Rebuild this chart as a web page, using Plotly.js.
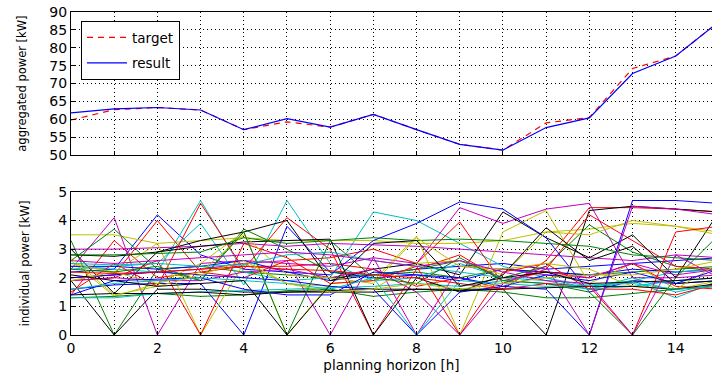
<!DOCTYPE html>
<html><head><meta charset="utf-8">
<script src="https://cdn.plot.ly/plotly-3.0.1.min.js"></script>
<style>html,body{margin:0;padding:0;background:#fff}#c{width:712px;height:379px}</style>
</head><body><div id="c"></div>
<script>
const hours = [0,1,2,3,4,5,6,7,8,9,10,11,12,13,14,15];
const target = [59.8,62.7,63.3,62.6,57.1,59.3,57.8,61.4,57.1,53.0,51.4,59.0,60.5,74.2,77.7,87.3];
const result = [61.8,62.9,63.3,62.6,57.1,60.2,57.8,61.4,57.1,53.0,51.4,57.7,60.4,72.8,77.7,87.3];

const blueSeries = [
  [2.2,2.3,4.2,2.8,2.3,2.2,1.9,2.1,2.3,2.4,2.5,2.3,2.4,2.5,2.6,2.7],
  [1.6,1.75,1.8,1.8,0,3.8,2.2,2.0,2.1,1.9,2.3,2.2,2.1,2.3,2.2,2.3],
  [2.4,2.4,2.3,2.4,2.6,2.2,2.1,3.3,3.9,4.65,4.4,3.4,1.5,1.9,1.8,1.9],
  [2.0,2.1,2.2,2.1,2.0,1.9,1.7,1.6,0,1.5,1.7,1.6,0,4.7,4.7,4.6],
  [1.4,1.9,1.95,2.0,1.6,1.4,1.4,2.2,2.1,2.0,1.7,2.1,1.9,2.2,1.8,2.3]
];
const greenSeries = [
  [3.3,0,2.3,2.4,2.2,2.1,2.0,2.1,2.2,2.0,2.3,2.2,2.1,2.2,2.3,2.4],
  [2.6,3.7,2.3,1.9,3.7,3.0,2.2,2.1,2.3,2.6,2.0,2.4,3.85,2.9,2.4,2.2],
  [1.3,1.35,1.45,1.35,1.4,1.55,1.6,1.35,1.5,1.6,1.5,1.3,1.3,1.45,1.6,1.7],
  [2.8,2.8,2.85,2.9,3.4,3.2,3.3,3.4,3.3,3.35,3.3,3.2,3.1,2.8,2.7,2.6],
  [2.3,2.2,2.4,1.9,3.6,0,3.3,2.0,1.8,2.7,1.9,1.8,1.5,0,2.0,3.5]
];
const redSeries = [
  [1.4,3.3,2.0,2.2,2.4,2.4,2.5,2.3,1.7,2.0,1.6,2.6,4.45,4.45,4.4,4.3],
  [2.0,2.1,4.0,2.2,2.0,2.6,2.7,3.0,2.5,3.95,1.8,2.3,4.2,3.3,2.4,2.3],
  [1.5,2.5,1.7,4.6,2.3,4.1,3.0,0,2.3,2.8,1.9,2.2,2.0,2.5,1.7,1.6],
  [1.9,2.0,2.6,0,3.2,2.7,1.8,1.9,2.4,0,2.2,2.5,1.6,1.6,1.4,1.8],
  [2.2,2.15,2.2,2.3,2.4,2.3,2.25,2.1,2.0,1.8,1.6,1.8,1.7,0,3.6,3.8]
];
const cyanSeries = [
  [2.4,2.3,2.2,4.7,2.2,1.9,2.0,4.3,4.0,3.2,2.4,2.0,1.6,2.0,1.5,1.8],
  [2.3,2.4,2.5,3.9,1.75,4.7,2.5,1.9,2.0,2.5,2.0,2.0,1.7,1.9,2.2,2.3],
  [1.3,1.3,1.45,1.5,1.55,1.6,1.65,1.7,1.8,1.7,1.9,1.8,1.6,1.9,1.3,1.9],
  [2.5,2.45,2.5,2.4,2.45,2.8,2.9,2.6,2.4,2.2,2.0,1.9,1.6,1.7,1.9,2.0],
  [1.6,1.8,1.9,2.0,1.9,1.8,1.6,2.0,0,1.9,1.8,1.7,1.75,1.8,1.6,1.7]
];
const magentaSeries = [
  [2.3,4.1,0,2.5,2.6,2.5,2.4,2.7,2.5,4.45,3.9,4.4,4.6,2.0,2.0,2.1],
  [3.0,3.0,3.05,3.1,3.2,3.1,3.2,3.15,3.1,3.0,2.9,2.8,2.7,2.6,2.8,2.7],
  [2.0,2.1,2.2,2.3,2.5,2.6,0,2.7,0,2.4,2.3,2.1,2.0,2.5,2.1,2.3],
  [1.9,2.0,1.9,1.9,2.2,2.3,2.0,2.3,1.5,0,1.8,2.4,0,4.5,4.4,4.2],
  [2.6,2.5,2.6,2.7,2.8,2.9,2.8,2.6,2.4,2.6,2.2,1.9,1.8,0,2.8,2.0]
];
const yellowSeries = [
  [3.5,3.5,3.2,3.3,3.4,3.3,3.3,3.3,3.2,3.2,3.3,3.6,3.7,3.9,3.8,3.6],
  [2.6,1.35,1.8,2.5,3.6,0,1.8,1.9,3.45,0,3.6,4.35,1.8,2.5,1.6,1.9],
  [2.5,2.2,3.2,0,2.5,1.8,1.7,1.6,2.5,2.6,2.1,3.6,3.5,4.0,3.8,3.5],
  [1.9,2.2,1.8,2.2,3.5,2.1,2.0,1.8,3.4,2.4,2.3,2.5,2.3,1.7,1.6,2.5],
  [2.7,1.4,1.7,2.1,2.6,1.8,1.5,1.6,1.8,1.6,1.8,2.0,2.1,2.1,2.3,2.6]
];
const blackSeries = [
  [1.9,0,1.6,1.6,1.5,1.5,1.5,1.5,1.6,1.6,1.6,0,4.35,4.5,4.4,4.3],
  [3.0,1.45,2.9,3.3,3.6,4.0,1.9,2.3,2.5,2.1,4.3,3.4,2.7,3.5,2.0,4.3],
  [2.8,2.75,2.9,3.1,3.25,3.3,3.35,0,2.0,1.5,2.1,3.75,2.6,3.1,1.8,1.9],
  [1.4,1.45,1.45,1.5,1.4,1.5,1.55,1.6,1.6,1.55,1.6,1.65,1.7,1.7,1.6,1.8],
  [2.1,1.9,1.7,1.8,1.9,0,1.75,3.2,3.3,1.7,2.0,2.2,1.8,1.85,1.9,2.0]
];

const groups = [
  [blueSeries,'#0000ff'],[greenSeries,'#008000'],[redSeries,'#ff0000'],
  [cyanSeries,'#00bfbf'],[magentaSeries,'#bf00bf'],[yellowSeries,'#bfbf00'],[blackSeries,'#000000']
];

const traces = [];
traces.push({x:hours,y:target,name:'target',legendgroup:'a',type:'scatter',mode:'lines',xaxis:'x',yaxis:'y',
  line:{color:'#ff0000',width:1.2,dash:'6px,5px'}});
traces.push({x:hours,y:result,name:'result',legendgroup:'b',type:'scatter',mode:'lines',xaxis:'x',yaxis:'y',
  line:{color:'#0000ff',width:1.2}});
for (let k=0;k<5;k++){
  for (const [arr,col] of groups){
    traces.push({x:hours,y:arr[k],type:'scatter',mode:'lines',xaxis:'x2',yaxis:'y2',
      showlegend:false,hoverinfo:'skip',line:{color:col,width:1}});
  }
}

const GD = '1px,3px';
const font = {family:'DejaVu Sans, sans-serif',size:13,color:'#000'};
const xbase = {range:[0,14.84],showline:true,mirror:true,linecolor:'#000',linewidth:1,
  ticks:'inside',ticklen:4,tickcolor:'#000',zeroline:false,
  showgrid:true,gridcolor:'#000',griddash:GD,gridwidth:1};
const layout = {
  width:712,height:379,
  margin:{l:71,r:0,t:12,b:44},
  paper_bgcolor:'#fff',plot_bgcolor:'#fff',
  font:font,
  showlegend:true,
  legend:{x:0.0156,y:0.972,xanchor:'left',yanchor:'top',bordercolor:'#000',borderwidth:1,
    bgcolor:'#fff',font:{family:'DejaVu Sans, sans-serif',size:13.5},tracegroupgap:5,
    entrywidth:100,itemwidth:40},
  xaxis:Object.assign({},xbase,{domain:[0,1],anchor:'y',dtick:1,tick0:0,showticklabels:false}),
  yaxis:{domain:[0.557,1],anchor:'x',range:[50,90],dtick:5,showline:true,mirror:true,linecolor:'#000',
    ticks:'inside',ticklen:4,tickcolor:'#000',zeroline:false,showgrid:true,gridcolor:'#000',griddash:GD,
    tickfont:{size:14},
    title:{text:'aggregated power [kW]',font:{size:11.5},standoff:20}},
  xaxis2:Object.assign({},xbase,{domain:[0,1],anchor:'y2',dtick:2,tick0:0,tickfont:{size:14},
    minor:{dtick:1,showgrid:true,gridcolor:'#000',griddash:GD,ticks:'inside',ticklen:3,tickcolor:'#000'},
    title:{text:'planning horizon [h]',font:{size:13.5},standoff:5}}),
  yaxis2:{domain:[0,0.443],anchor:'x2',range:[0,5],dtick:1,showline:true,mirror:true,linecolor:'#000',
    ticks:'inside',ticklen:4,tickcolor:'#000',zeroline:false,showgrid:true,gridcolor:'#000',griddash:GD,
    tickfont:{size:14},
    title:{text:'individual power [kW]',font:{size:11.5},standoff:26}}
};
Plotly.newPlot('c',traces,layout,{staticPlot:true,displayModeBar:false});
</script></body></html>
